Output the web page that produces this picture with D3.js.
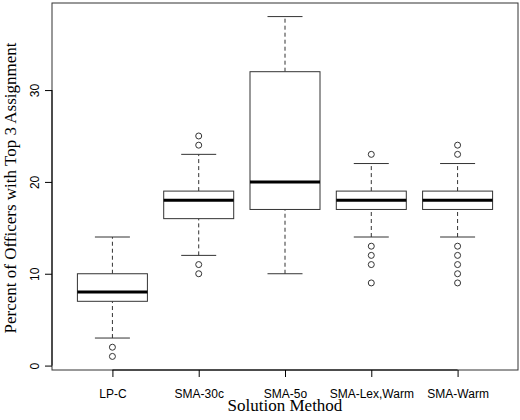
<!DOCTYPE html><html><head><meta charset="utf-8">
<script src="https://cdn.jsdelivr.net/npm/d3@7"></script>
<style>body{margin:0;background:#fff}</style></head><body><svg width="520" height="420"></svg>
<script>
const categories=["LP-C","SMA-30c","SMA-5o","SMA-Lex,Warm","SMA-Warm"];
const whiskerLow=[3,12,10,14,14];
const q1=[7,16,17,17,17];
const median=[8,18,20,18,18];
const q3=[10,19,32,19,19];
const whiskerHigh=[14,23,38,22,22];
const outliers=[[2,1],[24,25,11,10],[],[23,13,12,11,9],[24,23,13,12,11,10,9]];
const yTicks=[0,10,20,30];
const svg=d3.select("svg");
const x=d3.scaleLinear().domain([0.3,5.7]).range([52,518]);
const y=d3.scaleLinear().domain([-0.48,39.48]).range([370,3]);
const bw=35;
const g=svg.append("g");
categories.forEach((c,i)=>{
  const cx=x(i+1);
  g.append("line").attr("x1",cx).attr("x2",cx).attr("y1",y(whiskerLow[i])).attr("y2",y(q1[i])).attr("stroke","#333").attr("stroke-dasharray","4,3");
  g.append("line").attr("x1",cx).attr("x2",cx).attr("y1",y(q3[i])).attr("y2",y(whiskerHigh[i])).attr("stroke","#333").attr("stroke-dasharray","4,3");
  [whiskerLow[i],whiskerHigh[i]].forEach(v=>g.append("line").attr("x1",cx-bw/2).attr("x2",cx+bw/2).attr("y1",y(v)).attr("y2",y(v)).attr("stroke","#333"));
  g.append("rect").attr("x",cx-bw).attr("width",2*bw).attr("y",y(q3[i])).attr("height",y(q1[i])-y(q3[i])).attr("fill","#fff").attr("stroke","#333");
  g.append("line").attr("x1",cx-bw).attr("x2",cx+bw).attr("y1",y(median[i])).attr("y2",y(median[i])).attr("stroke","#000").attr("stroke-width",3);
  outliers[i].forEach(v=>g.append("circle").attr("cx",cx).attr("cy",y(v)).attr("r",3).attr("fill","none").attr("stroke","#333"));
});
svg.append("rect").attr("x",52).attr("y",3).attr("width",466).attr("height",367).attr("fill","none").attr("stroke","#333");
const xa=svg.append("g").attr("transform","translate(0,370)").call(d3.axisBottom(x).tickValues([1,2,3,4,5]).tickFormat((d)=>categories[d-1]).tickSizeOuter(0).tickSize(7).tickPadding(12));
xa.select(".domain").attr("d",`M${x(1)},0H${x(5)}`);
xa.selectAll("text").attr("font-family","Liberation Sans, Arial").attr("font-size",12).attr("fill","#000");
const ya=svg.append("g").attr("transform","translate(52,0)").call(d3.axisLeft(y).tickValues(yTicks).tickSizeOuter(0).tickSize(7));
ya.select(".domain").attr("d",`M0,${y(0)}V${y(30)}`);
ya.selectAll("text").attr("font-family","Liberation Sans, Arial").attr("font-size",12).attr("fill","#000")
  .attr("transform","rotate(-90)").attr("x",0).attr("y",-13).attr("dy","0").attr("text-anchor","middle");
svg.append("text").attr("x",285).attr("y",411).attr("text-anchor","middle").attr("font-family","Liberation Serif, Times New Roman").attr("font-size",17).text("Solution Method");
svg.append("text").attr("transform","translate(16,188) rotate(-90)").attr("text-anchor","middle").attr("font-family","Liberation Serif, Times New Roman").attr("font-size",17).text("Percent of Officers with Top 3 Assignment");
</script></body></html>
